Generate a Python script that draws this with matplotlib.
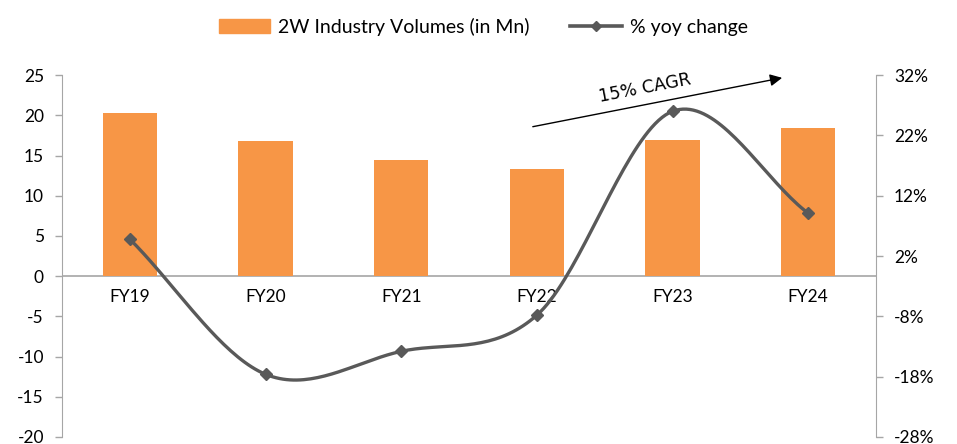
import matplotlib.pyplot as plt
import numpy as np
from matplotlib.lines import Line2D
from matplotlib.patches import Patch

plt.rcParams['font.family'] = ['Lato', 'DejaVu Sans']
plt.rcParams['axes.unicode_minus'] = False

years = ["FY19", "FY20", "FY21", "FY22", "FY23", "FY24"]
volumes = [20.3, 16.8, 14.4, 13.3, 16.9, 18.4]
yoy = [4.8, -17.6, -13.8, -7.8, 26.0, 9.1]

def smooth(xs, ys, n=40):
    # catmull-rom style smoothing like excel's smoothed line
    xs = np.asarray(xs, float)
    ys = np.asarray(ys, float)
    px = np.concatenate([[2 * xs[0] - xs[1]], xs, [2 * xs[-1] - xs[-2]]])
    py = np.concatenate([[2 * ys[0] - ys[1]], ys, [2 * ys[-1] - ys[-2]]])
    outx, outy = [], []
    for i in range(1, len(px) - 2):
        t = np.linspace(0, 1, n)
        for arr, out in ((px, outx), (py, outy)):
            p0, p1, p2, p3 = arr[i - 1], arr[i], arr[i + 1], arr[i + 2]
            out.extend(0.5 * ((2 * p1) + (-p0 + p2) * t
                              + (2 * p0 - 5 * p1 + 4 * p2 - p3) * t ** 2
                              + (-p0 + 3 * p1 - 3 * p2 + p3) * t ** 3))
    return np.array(outx), np.array(outy)

fig = plt.figure(figsize=(9.57, 4.44), dpi=100)
ax = fig.add_axes([0.0648, 0.0158, 0.8506, 0.815])
x = np.arange(len(years))

grey = "#A6A6A6"
ax.bar(x, volumes, width=0.4, color="#F79646", zorder=2)
ax.axhline(0, color=grey, lw=1.2, zorder=1)
ax.set_xlim(-0.5, len(years) - 0.5)
ax.set_ylim(-20, 25)
ax.set_yticks(range(-20, 26, 5))
ax.set_xticks([])
for i, lab in enumerate(years):
    ax.text(i, -1.6, lab, ha="center", va="top", fontsize=12.5, color="#000000")

ax2 = ax.twinx()
ax2.set_ylim(-28, 32)
ax2.set_yticks(range(-28, 33, 10))
ax2.set_yticklabels([f"{v}%" for v in range(-28, 33, 10)])
sx, sy = smooth(x, yoy)
ax2.plot(sx, sy, color="#595959", lw=2.4, zorder=3)
ax2.plot(x, yoy, ls="none", marker="D", ms=6.5, color="#595959", zorder=4)

for a in (ax, ax2):
    for s in ("top", "bottom"):
        a.spines[s].set_visible(False)
    a.spines["left"].set_color(grey)
    a.spines["right"].set_color(grey)
    a.tick_params(axis="y", colors=grey, length=5, width=1, labelsize=12.5, labelcolor="#000000", pad=8)
ax.spines["right"].set_visible(False)
ax2.spines["left"].set_visible(False)

# CAGR arrow
ax.annotate("", xy=(0.888, 0.994), xytext=(0.575, 0.856), xycoords="axes fraction",
            arrowprops=dict(arrowstyle="-|>", color="black", lw=1.0, mutation_scale=18))
ax.text(0.716, 0.965, "15% CAGR", transform=ax.transAxes, rotation=11, ha="center", va="center",
        fontsize=12.5, color="black", family=["DejaVu Sans"])

handles = [Patch(color="#F79646"), Line2D([], [], color="#595959", lw=2.6, marker="D", ms=5)]
fig.legend(handles, ["2W Industry Volumes (in Mn)", "% yoy change"], loc="upper center",
           bbox_to_anchor=(0.505, 1.0), ncol=2, frameon=False, fontsize=14,
           handlelength=2.65, handleheight=0.75, handletextpad=0.4, columnspacing=2.1)

fig.savefig("out.png", dpi=100)
